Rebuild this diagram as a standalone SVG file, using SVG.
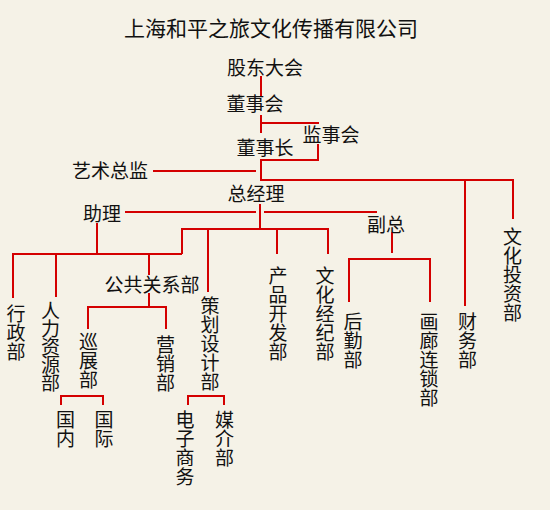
<svg xmlns="http://www.w3.org/2000/svg" width="550" height="510" viewBox="0 0 550 510">
<style>
text{font-family:"Noto Sans CJK SC","Noto Sans",sans-serif;font-size:19px;fill:#111}
.t{font-size:21px}
.v{writing-mode:vertical-rl;text-orientation:upright}
.c path{fill:none;stroke:#d40000;stroke-width:2}
</style>
<rect width="550" height="510" fill="#f5f2e7"/>
<g class="c" id="connectors">
<path d="M261 76V96"/>
<path d="M261 115V133M261 123H319"/>
<path d="M318 144V160H261V181"/>
<path d="M153 171H256"/>
<path d="M261 180H513V219M465 180V306"/>
<path d="M260 204V228M125 212H256M264 212H377"/>
<path d="M182 254V229H328V254M208 229V292M277 229V254"/>
<path d="M13 298V254H182M56 254V297M97 223V254M149 254V275"/>
<path d="M149 293V307M88 329V307H166V329"/>
<path d="M61 405V396H103V405"/>
<path d="M188 405V396H224V405"/>
<path d="M392 232V253M349 302V259H430V302"/>
</g>
<g id="title"><text class="t" x="271" y="36" text-anchor="middle">上海和平之旅文化传播有限公司</text></g>
<g id="gudong"><text x="265" y="75" text-anchor="middle">股东大会</text></g>
<g id="dongshihui"><text x="255" y="111" text-anchor="middle">董事会</text></g>
<g id="jianshihui"><text x="331" y="142" text-anchor="middle">监事会</text></g>
<g id="dongshizhang"><text x="265" y="155" text-anchor="middle">董事长</text></g>
<g id="yishu"><text x="110" y="178" text-anchor="middle">艺术总监</text></g>
<g id="zongjingli"><text x="256" y="201" text-anchor="middle">总经理</text></g>
<g id="zhuli"><text x="102" y="221" text-anchor="middle">助理</text></g>
<g id="fuzong"><text x="386" y="232" text-anchor="middle">副总</text></g>
<g id="gonggong"><text x="152" y="292" text-anchor="middle">公共关系部</text></g>
<g id="xingzheng"><text class="v" x="16" y="304">行政部</text></g>
<g id="renli"><text class="v" x="50.5" y="301" letter-spacing="-1">人力资源部</text></g>
<g id="xunzhan"><text class="v" x="88.5" y="332">巡展部</text></g>
<g id="yingxiao"><text class="v" x="165.5" y="335">营销部</text></g>
<g id="guonei"><text class="v" x="65.5" y="410">国内</text></g>
<g id="guoji"><text class="v" x="104" y="410">国际</text></g>
<g id="cehua"><text class="v" x="210" y="296">策划设计部</text></g>
<g id="dianzi"><text class="v" x="185" y="410">电子商务</text></g>
<g id="meijie"><text class="v" x="224.5" y="410">媒介部</text></g>
<g id="chanpin"><text class="v" x="278" y="266">产品开发部</text></g>
<g id="jingji"><text class="v" x="325" y="266">文化经纪部</text></g>
<g id="houqin"><text class="v" x="353" y="312">后勤部</text></g>
<g id="hualang"><text class="v" x="429" y="312">画廊连锁部</text></g>
<g id="caiwu"><text class="v" x="467.5" y="312">财务部</text></g>
<g id="touzi"><text class="v" x="512.5" y="227">文化投资部</text></g>
</svg>
